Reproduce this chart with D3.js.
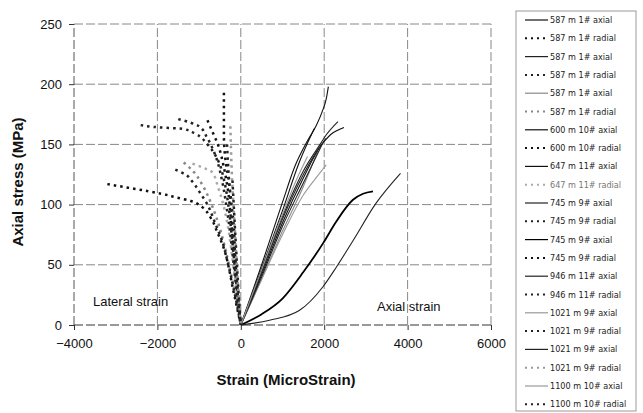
<!DOCTYPE html>
<html><head><meta charset="utf-8">
<script src="https://cdn.jsdelivr.net/npm/d3@7"></script>
<style>body{margin:0;background:#fff}svg{display:block}</style>
</head><body><svg id="c" width="643" height="413"></svg>
<script>
// ---- data (strain in microstrain, stress in MPa) ----
const xTicks = [-4000,-2000,0,2000,4000,6000];
const yTicks = [0,50,100,150,200,250];
const legendLabels = ["587 m 1# axial","587 m 1# radial","587 m 1# axial","587 m 1# radial","587 m 1# axial","587 m 1# radial","600 m 10# axial","600 m 10# radial","647 m 11# axial","647 m 11# radial","745 m 9# axial","745 m 9# radial","745 m 9# axial","745 m 9# radial","946 m 11# axial","946 m 11# radial","1021 m 9# axial","1021 m 9# radial","1021 m 9# axial","1021 m 9# radial","1100 m 10# axial","1100 m 10# radial"];
const seriesColors = ["#111","#111","#222","#222","#888","#888","#111","#111","#111","#aaa","#222","#222","#000","#111","#222","#222","#999","#222","#222","#999","#999","#222"];

const a587_1 = [[0,0],[500,50],[1000,102],[1300,132],[1600,153],[1800,165],[1950,177],[2050,188],[2100,198]];
const r587_1 = [[-405,193],[-405,176],[-405,158],[-380,141],[-290,120],[-215,98],[-165,81],[-140,60],[-95,37],[-50,15],[0,0]];
const a587_2 = [[0,0],[500,45],[1000,90],[1500,128],[1900,150],[2050,158],[2330,169]];
const r587_2 = [[-2400,166],[-1900,164],[-1400,163],[-1100,159],[-800,150],[-550,137],[-400,120],[-300,100],[-220,75],[-150,50],[-80,25],[0,0]];
const a587_3 = [[0,0],[500,38],[1000,78],[1500,115],[1850,145]];
const r587_3 = [[-1370,135],[-1150,128],[-900,115],[-700,100],[-500,80],[-350,60],[-220,40],[-100,20],[0,0]];
const a600_10 = [[0,0],[500,42],[1000,85],[1500,122],[1900,148],[2150,158],[2475,164]];
const r600_10 = [[-800,170],[-700,162],[-550,150],[-400,130],[-300,110],[-230,85],[-160,60],[-100,35],[-50,15],[0,0]];
const a647_11 = [[0,0],[500,47],[1000,95],[1400,135],[1760,163]];
const r647_11 = [[-1160,134],[-930,131],[-690,127],[-550,115],[-420,100],[-300,80],[-200,55],[-100,28],[0,0]];
const a745_9a = [[0,0],[500,44],[1000,88],[1500,125],[1800,143],[2050,155]];
const r745_9a = [[-1500,171],[-1200,168],[-1000,165],[-800,155],[-600,140],[-450,120],[-350,100],[-250,75],[-170,50],[-90,25],[0,0]];
const a745_9b = [[0,0],[500,9],[1000,22],[1500,44],[1975,68],[2290,86],[2690,104],[2930,109],[3170,111]];
const r745_9b = [[-3200,117],[-2700,114],[-2200,111],[-1900,109],[-1550,106],[-1200,103],[-930,98],[-740,90],[-550,76],[-400,63],[-290,48],[-200,32],[-100,16],[0,0]];
const a946_11 = [[0,0],[690,4],[1400,12],[1975,32],[2290,48],[2690,70],[3240,101],[3830,126]];
const r946_11 = [[-1570,129],[-1330,125],[-1160,119],[-980,110],[-800,100],[-620,85],[-450,70],[-300,50],[-170,30],[0,0]];
const a1021_9a = [[0,0],[500,38],[1000,75],[1500,108],[1800,122],[2050,133]];
const r1021_9a = [[-330,150],[-300,130],[-260,110],[-220,90],[-170,65],[-110,40],[-60,20],[0,0]];
const a1021_9b = [[0,0],[500,40],[1000,82],[1500,118],[1950,150]];
const r1021_9b = [[-250,165],[-230,140],[-200,115],[-160,90],[-120,65],[-80,40],[-40,18],[0,0]];
const a1100_10 = [[0,0],[500,46],[1000,92],[1300,118],[1600,140]];
const r1100_10 = [[-200,120],[-170,100],[-140,80],[-100,55],[-60,30],[0,0]];

const seriesData = [a587_1,r587_1,a587_2,r587_2,a587_3,r587_3,a600_10,r600_10,a647_11,r647_11,a745_9a,r745_9a,a745_9b,r745_9b,a946_11,r946_11,a1021_9a,r1021_9a,a1021_9b,r1021_9b,a1100_10,r1100_10];

// ---- drawing ----
const svg = d3.select("#c");
const x = d3.scaleLinear().domain([-4000,6000]).range([74,491]);
const y = d3.scaleLinear().domain([0,250]).range([325,24]);
const font = "'Liberation Sans', Arial, sans-serif";

// gridlines
svg.append("g").selectAll("line").data(yTicks).join("line")
  .attr("x1",x(-4000)).attr("x2",x(6000)).attr("y1",d=>y(d)).attr("y2",d=>y(d))
  .attr("stroke",d=>d===0?"#333":"#888").attr("stroke-width",1).attr("stroke-dasharray","9,3");
svg.append("g").selectAll("line").data(xTicks).join("line")
  .attr("y1",y(0)).attr("y2",y(250)).attr("x1",d=>x(d)).attr("x2",d=>x(d))
  .attr("stroke",d=>d===-4000?"#555":"#888").attr("stroke-width",1).attr("stroke-dasharray","9,3");

// axes
const xAxis = d3.axisBottom(x).tickValues(xTicks).tickSize(5).tickPadding(9).tickFormat(d3.format("d"));
const gx = svg.append("g").attr("transform",`translate(0,${y(0)})`).call(xAxis);
gx.select(".domain").remove();
gx.selectAll("line").attr("stroke","#333");
gx.selectAll("text").attr("font-family",font).attr("font-size",13).attr("fill","#111");
const yAxis = d3.axisLeft(y).tickValues(yTicks).tickSize(5).tickPadding(7);
const gy = svg.append("g").attr("transform",`translate(${x(-4000)},0)`).call(yAxis);
gy.select(".domain").remove();
gy.selectAll("line").attr("stroke","#333");
gy.selectAll("text").attr("font-family",font).attr("font-size",13).attr("fill","#111");

// series
const line = d3.line().x(d=>x(d[0])).y(d=>y(d[1])).curve(d3.curveMonotoneY);
const lineA = d3.line().x(d=>x(d[0])).y(d=>y(d[1])).curve(d3.curveMonotoneX);
seriesData.forEach((s,i)=>{
  const radial = i%2===1;
  svg.append("path").datum(s)
    .attr("d", radial ? line : lineA)
    .attr("fill","none")
    .attr("stroke",seriesColors[i])
    .attr("stroke-width", radial ? 2.5 : (i===12?1.8:1.1))
    .attr("stroke-dasharray", radial ? "2.5,4" : null);
});

// annotations
svg.append("text").attr("x",93).attr("y",306).attr("font-family",font).attr("font-size",13).attr("fill","#111").text("Lateral strain");
svg.append("text").attr("x",377).attr("y",311).attr("font-family",font).attr("font-size",13).attr("fill","#111").text("Axial strain");

// axis titles
svg.append("text").attr("x",286).attr("y",385).attr("text-anchor","middle").attr("font-family",font).attr("font-weight","bold").attr("font-size",15).attr("fill","#111").text("Strain (MicroStrain)");
svg.append("text").attr("transform","translate(23,182) rotate(-90)").attr("text-anchor","middle").attr("font-family",font).attr("font-weight","bold").attr("font-size",15).attr("fill","#111").text("Axial stress (MPa)");

// legend
const lg = svg.append("g");
lg.append("rect").attr("x",516).attr("y",11).attr("width",120).attr("height",400)
  .attr("fill","#fff").attr("stroke","#999").attr("stroke-width",1);
legendLabels.forEach((lab,i)=>{
  const yy = 20 + i*18.3;
  const radial = i%2===1;
  lg.append("line").attr("x1",525).attr("x2",548).attr("y1",yy).attr("y2",yy)
    .attr("stroke",seriesColors[i]).attr("stroke-width",radial?2:1.2)
    .attr("stroke-dasharray",radial?"2,4":null);
  lg.append("text").attr("x",550).attr("y",yy+3).attr("font-family","'Liberation Sans Narrow','DejaVu Sans Condensed',Arial,sans-serif")
    .attr("font-size",9).attr("fill",seriesColors[i]==="#aaa"?"#777":"#222").text(lab);
});
</script></body></html>
